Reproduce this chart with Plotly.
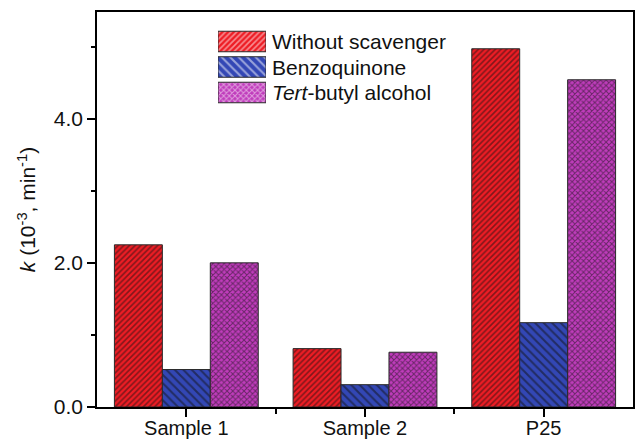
import plotly.graph_objects as go

samples = ["Sample 1", "Sample 2", "P25"]
sample_pos = [0, 1, 2]
without_scavenger = [2.25, 0.81, 4.97]
benzoquinone = [0.52, 0.31, 1.17]
tert_butyl = [2.00, 0.76, 4.54]

series_names = ["Without scavenger", "Benzoquinone", "<i>Tert</i>-butyl alcohol"]
series_bg = ["#ee1c24", "#3347b5", "#c03cbc"]
series_shape = ["/", "\\", "x"]
series_size = [4, 6, 4]
series_solid = [0.4, 0.35, 0.45]
series_values = [without_scavenger, benzoquinone, tert_butyl]

FONT = "Liberation Sans, Arial, sans-serif"
FS = 21

fig = go.Figure()
for name, vals, bg, shp, sz, so in zip(series_names, series_values, series_bg,
                                       series_shape, series_size, series_solid):
    fig.add_trace(go.Bar(
        x=sample_pos, y=vals, name=name, showlegend=False,
        marker=dict(color=bg, line=dict(color="#2a2a2a", width=1),
                    pattern=dict(shape=shp, bgcolor=bg, fgcolor="#111111",
                                 size=sz, solidity=so, fillmode="overlay")),
        xaxis="x", yaxis="y",
    ))

# custom legend with large swatches (one bar trace on helper axes)
legend_len = [1, 1, 1]
fig.add_trace(go.Bar(
    x=legend_len, y=series_names, orientation="h", showlegend=False,
    hoverinfo="skip",
    marker=dict(color=series_bg, line=dict(color="#2a2a2a", width=1),
                pattern=dict(shape=series_shape, bgcolor=series_bg, fgcolor="#111111",
                             size=series_size, solidity=series_solid, fillmode="overlay")),
    xaxis="x2", yaxis="y2",
))
for name in series_names:
    fig.add_annotation(x=1, y=name, xref="x2 domain", yref="y2", text=name,
                       xanchor="left", yanchor="middle", xshift=4, showarrow=False,
                       font=dict(family=FONT, size=FS, color="#111111"))

W, H = 635, 439
ml, mr, mt, mb = 97, 2, 12, 32
pw, ph = W - ml - mr, H - mt - mb

def px_x(p):
    return (p - ml) / pw

def px_y(p):
    return (H - mb - p) / ph

fig.update_layout(
    width=W, height=H,
    margin=dict(l=ml, r=mr, t=mt, b=mb, autoexpand=False),
    paper_bgcolor="white", plot_bgcolor="white",
    barmode="group", bargap=0.195, bargroupgap=0,
    font=dict(family=FONT, size=FS, color="#111111"),
    xaxis=dict(
        range=[-0.5, 2.5], tickmode="array", tickvals=sample_pos, ticktext=samples,
        showline=True, linecolor="black", linewidth=1.5, mirror=True,
        ticks="outside", ticklen=8, tickwidth=1.5, tickcolor="black",
        showgrid=False, zeroline=False, automargin=False, ticklabelstandoff=-6,
        minor=dict(tickmode="array", tickvals=[0.5, 1.5], ticks="outside",
                   ticklen=5, tickwidth=1.5, tickcolor="black", showgrid=False),
        tickfont=dict(size=20),
    ),
    yaxis=dict(
        range=[0, 5.48], tickmode="linear", tick0=0, dtick=2, tickformat=".1f",
        showline=True, linecolor="black", linewidth=1.5, mirror=True,
        ticks="outside", ticklen=8, tickwidth=1.5, tickcolor="black",
        showgrid=False, zeroline=False, automargin=False,
        minor=dict(tick0=0, dtick=1, ticks="outside", ticklen=4, tickwidth=1.5,
                   tickcolor="black", showgrid=False),
        title=dict(text="<i>k</i> (10<sup>-3</sup>, min<sup>-1</sup>)", standoff=12,
                   font=dict(size=FS)),
        tickfont=dict(size=FS),
    ),
    xaxis2=dict(domain=[px_x(218), px_x(266)], range=[0, 1], anchor="y2",
                visible=False, fixedrange=True),
    yaxis2=dict(domain=[px_y(106), px_y(28)], anchor="x2", autorange="reversed",
                visible=False, fixedrange=True),
    showlegend=False,
)

fig.write_html("out.html")
